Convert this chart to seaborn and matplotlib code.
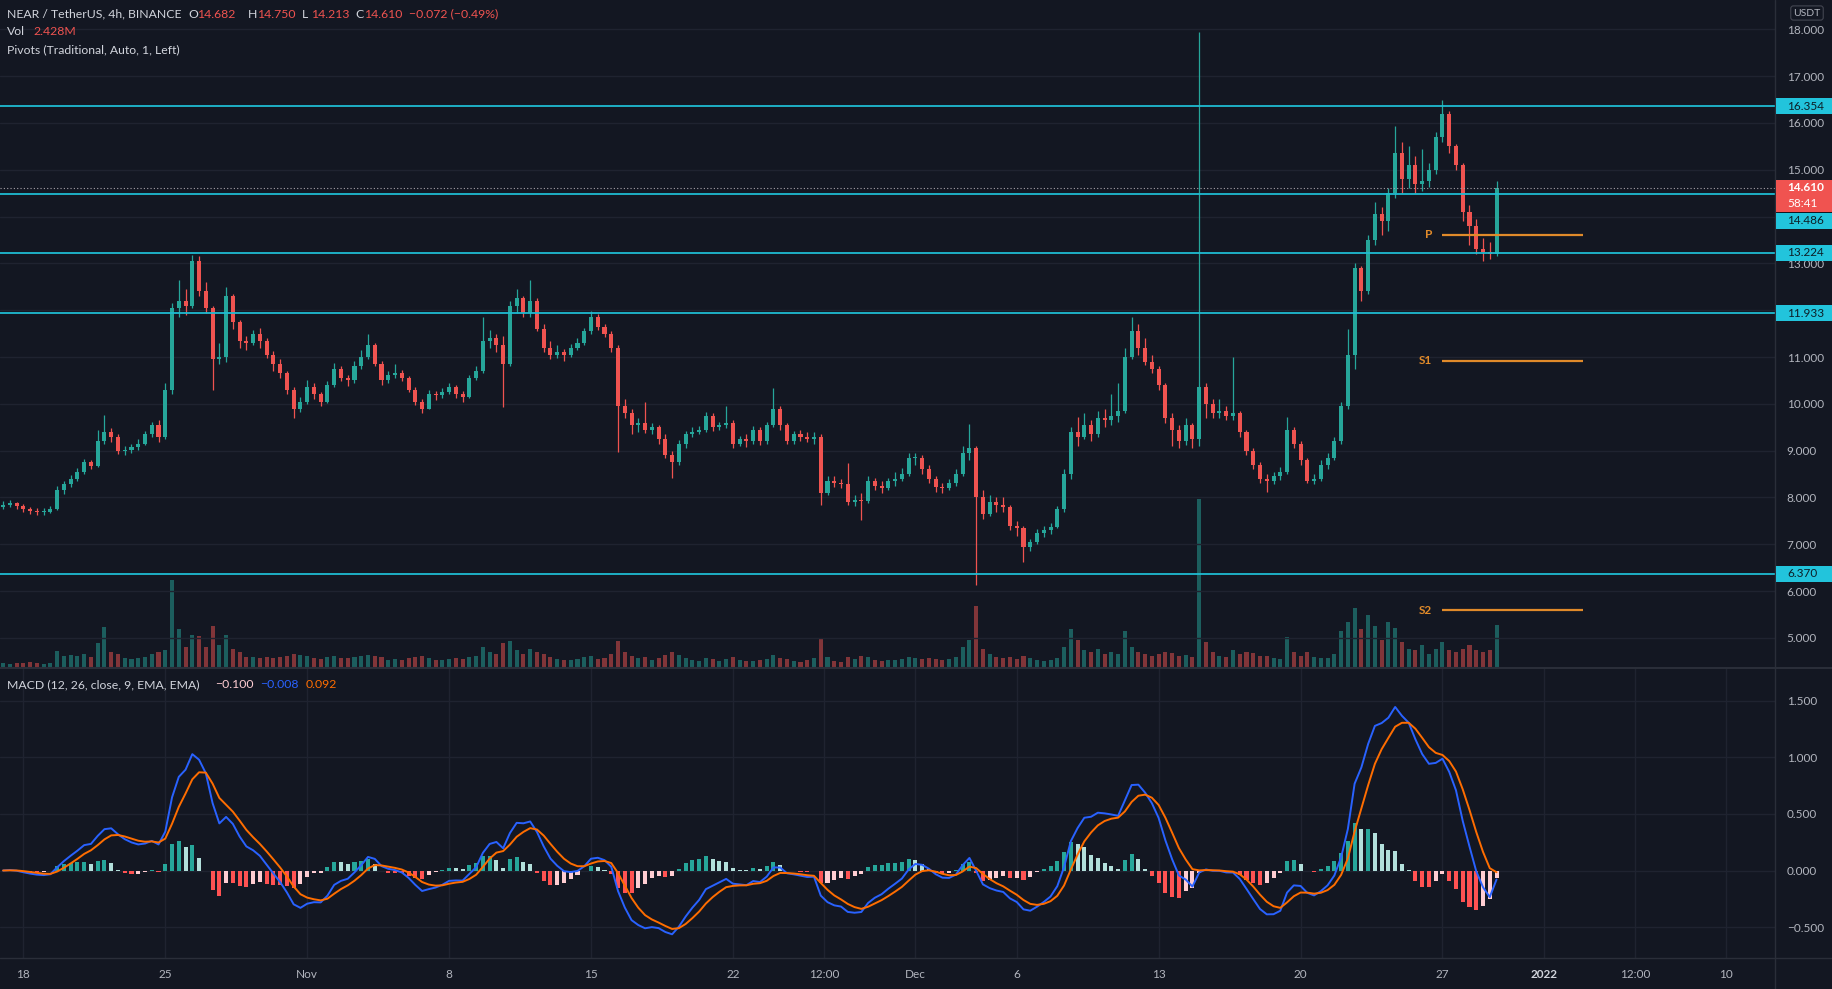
import numpy as np
import pandas as pd
import matplotlib
matplotlib.use("Agg")
import matplotlib.pyplot as plt
import matplotlib.transforms as mtransforms
from matplotlib.lines import Line2D
from matplotlib.patches import Rectangle
import seaborn as sns

# ---------------- data (8h bars) ----------------
bar_start = "2021-10-17 00:00"
bar_freq = "8h"
first_open = 7.80
close = [
    7.85, 7.88, 7.82,  7.75, 7.72, 7.70,  7.70, 7.76, 8.15,  8.28, 8.40, 8.55,
    8.75, 8.68, 9.20,  9.40, 9.30, 9.00,  9.02, 9.08, 9.15,  9.35, 9.55, 9.30,
    10.30, 12.05, 12.20,  12.10, 13.05, 12.40,  12.05, 10.95, 11.00,  12.30, 11.75, 11.35,
    11.30, 11.50, 11.35,  11.05, 10.85, 10.65,  10.30, 9.90, 10.05,
    10.35, 10.20, 10.05,  10.40, 10.75, 10.55,  10.50, 10.80, 11.00,  11.25, 10.85, 10.50,
    10.62, 10.65, 10.55,  10.30, 10.05, 9.90,  10.20, 10.18, 10.25,
    10.35, 10.20, 10.15,  10.55, 10.70, 11.35,  11.40, 11.25, 10.85,  12.10, 12.25, 11.95,
    12.20, 11.60, 11.20,  11.05, 11.10, 11.05,  11.20, 11.30, 11.55,
    11.85, 11.65, 11.50,  11.20, 9.95, 9.80,  9.55, 9.60, 9.45,  9.50, 9.25, 8.90,
    8.75, 9.15, 9.35,  9.40, 9.45, 9.75,  9.50, 9.55, 9.60,
    9.15, 9.25, 9.20,  9.45, 9.20, 9.55,  9.90, 9.55, 9.20,  9.35, 9.30, 9.25,
    9.30, 8.10, 8.35,  8.32, 8.28, 7.90,  7.95, 7.92, 8.35,
    8.25, 8.20, 8.35,  8.40, 8.50, 8.85,
    8.85, 8.60, 8.40,  8.22, 8.20, 8.30,  8.50, 8.95, 9.05,  8.00, 7.65, 7.90,  7.85, 7.80, 7.40,
    7.35, 6.95, 7.05,  7.25, 7.30, 7.38,  7.75, 8.50, 9.40,  9.30, 9.55, 9.35,
    9.70, 9.65, 9.75,  9.85, 11.00, 11.55,  11.20, 10.90, 10.75,
    10.40, 9.70, 9.45,  9.20, 9.55, 9.25,  10.35, 10.00, 9.80,  9.85, 9.75, 9.80,
    9.40, 9.00, 8.70,  8.40, 8.35, 8.45,  8.55, 9.45, 9.15,
    8.80, 8.35, 8.40,  8.70, 8.85, 9.20,  9.95, 11.05, 12.90,  12.40, 13.50, 14.05,
    13.90, 14.50, 15.35,  14.80, 15.10, 14.70,  14.75, 15.00, 15.70,
    16.20, 15.50, 15.10,  14.10, 13.80, 13.30,  13.25, 13.20, 14.61,
]
high = [
    7.92, 7.95, 7.90,  7.86, 7.80, 7.78,  7.78, 7.82, 8.25,  8.35, 8.48, 8.62,
    8.82, 8.80, 9.45,  9.76, 9.48, 9.35,  9.10, 9.15, 9.25,  9.42, 9.62, 9.65,
    10.45, 12.15, 12.64,  12.45, 13.18, 13.15,  12.60, 12.10, 11.30,  12.50, 12.35, 11.80,
    11.45, 11.58, 11.62,  11.40, 11.12, 10.95,  10.70, 10.35, 10.15,
    10.50, 10.45, 10.25,  10.48, 10.88, 10.80,  10.62, 10.92, 11.15,  11.50, 11.30, 10.92,
    10.70, 10.86, 10.72,  10.60, 10.35, 10.10,  10.30, 10.28, 10.33,
    10.45, 10.40, 10.28,  10.62, 10.80, 11.85,  11.58, 11.50, 11.45,  12.20, 12.45, 12.30,
    12.64, 12.25, 11.70,  11.35, 11.25, 11.18,  11.28, 11.40, 11.62,
    11.98, 11.92, 11.70,  11.55, 11.25, 10.10,  9.90, 9.70, 10.05,  9.60, 9.55, 9.35,
    9.00, 9.22, 9.42,  9.50, 9.52, 9.82,  9.80, 9.62, 9.95,
    9.65, 9.32, 9.35,  9.52, 9.50, 9.62,  10.33, 9.95, 9.60,  9.42, 9.45, 9.40,
    9.40, 9.35, 8.45,  8.45, 8.40, 8.73,  8.05, 8.10, 8.45,
    8.42, 8.35, 8.42,  8.55, 8.62, 8.94,
    8.95, 8.90, 8.70,  8.45, 8.32, 8.40,  8.60, 9.10, 9.58,  9.10, 8.15, 8.05,  8.02, 8.00, 7.85,
    7.50, 7.40, 7.12,  7.32, 7.40, 7.45,  7.82, 8.60, 9.50,  9.72, 9.80, 9.65,
    9.85, 9.90, 10.20,  10.45, 11.20, 11.86,  11.70, 11.40, 11.05,
    10.80, 10.45, 9.80,  9.55, 9.70, 9.60,  17.93, 10.45, 10.10,  10.10, 9.95, 11.00,
    9.85, 9.45, 9.05,  8.75, 8.50, 8.55,  8.65, 9.72, 9.50,
    9.20, 8.85, 8.50,  8.80, 8.95, 9.30,  10.05, 11.60, 13.00,  12.95, 13.60, 14.30,
    14.20, 14.60, 15.94,  15.60, 15.50, 15.30,  15.45, 15.15, 15.80,
    16.49, 16.25, 15.55,  15.15, 14.25, 13.95,  13.55, 13.45, 14.75,
]
low = [
    7.76, 7.80, 7.76,  7.70, 7.64, 7.62,  7.63, 7.66, 7.74,  8.08, 8.22, 8.35,
    8.50, 8.60, 8.66,  9.15, 9.18, 8.92,  8.90, 8.96, 9.02,  9.12, 9.30, 9.18,
    9.25, 10.20, 11.85,  11.90, 12.05, 12.30,  11.95, 10.30, 10.85,  10.90, 11.60, 11.20,
    11.15, 11.25, 11.20,  10.98, 10.70, 10.55,  10.20, 9.69, 9.82,
    10.00, 10.10, 9.95,  10.02, 10.35, 10.48,  10.38, 10.45, 10.75,  10.95, 10.80, 10.40,
    10.45, 10.55, 10.48,  10.25, 9.98, 9.80,  9.88, 10.08, 10.12,
    10.20, 10.12, 10.05,  10.12, 10.50, 10.65,  11.20, 11.10, 9.94,  10.80, 11.95, 11.85,
    11.85, 11.55, 11.10,  10.95, 10.98, 10.92,  11.00, 11.15, 11.25,
    11.50, 11.58, 11.42,  11.10, 8.98, 9.70,  9.35, 9.40, 9.38,  9.35, 9.15, 8.85,
    8.41, 8.70, 9.05,  9.30, 9.36, 9.40,  9.42, 9.45, 9.48,
    9.05, 9.10, 9.08,  9.15, 9.12, 9.15,  9.50, 9.45, 9.15,  9.15, 9.20, 9.18,
    9.15, 7.84, 8.05,  8.22, 8.20, 7.85,  7.82, 7.52, 7.88,
    8.15, 8.10, 8.15,  8.25, 8.35, 8.45,
    8.70, 8.50, 8.30,  8.12, 8.10, 8.15,  8.25, 8.45, 8.80,  6.13, 7.55, 7.60,  7.70, 7.68, 7.30,
    7.18, 6.63, 6.85,  7.00, 7.15, 7.22,  7.35, 7.70, 8.40,  9.10, 9.25, 9.20,
    9.30, 9.50, 9.55,  9.62, 9.80, 10.95,  11.05, 10.82, 10.65,
    10.30, 9.60, 9.10,  9.05, 9.12, 9.05,  9.10, 9.70, 9.70,  9.70, 9.65, 9.65,
    9.30, 8.90, 8.60,  8.30, 8.11, 8.28,  8.38, 8.50, 9.05,
    8.70, 8.31, 8.28,  8.35, 8.60, 8.80,  9.15, 9.90, 10.75,  12.20, 12.35, 13.40,
    13.60, 13.70, 14.40,  14.50, 14.60, 14.50,  14.55, 14.62, 14.90,
    15.60, 15.35, 15.00,  13.90, 13.40, 13.20,  13.04, 13.10, 13.15,
]
volume_m = [
    0.30, 0.25, 0.28,  0.30, 0.35, 0.30,  0.25, 0.30, 0.95,  0.70, 0.75, 0.70,
    0.80, 0.60, 1.40,  2.36, 0.90, 0.80,  0.55, 0.50, 0.55,  0.65, 0.80, 0.90,
    1.00, 5.00, 2.20,  1.20, 1.90, 1.80,  1.20, 2.40, 1.30,  1.90, 1.10, 0.90,
    0.60, 0.65, 0.55,  0.60, 0.55, 0.65,  0.70, 0.80, 0.75,
    0.70, 0.55, 0.50,  0.60, 0.70, 0.55,  0.55, 0.65, 0.70,  0.75, 0.70, 0.65,
    0.45, 0.50, 0.45,  0.55, 0.60, 0.70,  0.55, 0.45, 0.45,
    0.50, 0.55, 0.50,  0.60, 0.70, 1.20,  0.90, 0.80, 1.40,  1.56, 1.00, 0.80,
    1.10, 0.90, 0.80,  0.60, 0.50, 0.45,  0.45, 0.50, 0.60,
    0.70, 0.50, 0.55,  0.80, 1.56, 0.90,  0.70, 0.55, 0.60,  0.45, 0.55, 0.75,
    0.90, 0.75, 0.55,  0.45, 0.40, 0.55,  0.50, 0.40, 0.50,
    0.60, 0.45, 0.40,  0.40, 0.45, 0.50,  0.74, 0.55, 0.50,  0.40, 0.35, 0.45,
    0.55, 1.64, 0.60,  0.40, 0.35, 0.60,  0.50, 0.70, 0.60,
    0.45, 0.40, 0.45,  0.45, 0.50, 0.60,
    0.55, 0.50, 0.55,  0.50, 0.45, 0.50,  0.60, 1.20, 1.60,  3.50, 1.10, 0.80,  0.60, 0.55, 0.60,
    0.50, 0.70, 0.55,  0.45, 0.40, 0.45,  0.55, 1.20, 2.20,  1.60, 1.00, 0.90,
    1.10, 0.80, 0.90,  0.80, 2.10, 1.20,  0.90, 0.80, 0.70,
    0.80, 0.90, 0.85,  0.70, 0.75, 0.60,  9.60, 1.50, 0.90,  0.70, 0.60, 1.00,
    0.80, 0.90, 0.85,  0.70, 0.70, 0.55,  0.50, 1.76, 0.90,
    0.70, 0.90, 0.60,  0.55, 0.55, 0.80,  2.10, 2.60, 3.40,  2.20, 3.00, 2.40,
    1.60, 2.60, 2.30,  1.50, 1.10, 1.00,  1.30, 0.80, 1.10,
    1.50, 1.00, 0.90,  1.10, 1.30, 1.00,  0.90, 1.00, 2.43,
]

level_prices = [16.354, 14.486, 13.224, 11.933, 6.370]
level_labels = ["16.354", "14.486", "13.224", "11.933", "6.370"]
last_price = 14.610
last_price_label = "14.610"
countdown_label = "58:41"
pivot_names = ["P", "S1", "S2"]
pivot_prices = [13.61, 10.92, 5.59]
pivot_from = "2021-12-27 00:00"
pivot_to = "2022-01-02 22:30"

price_ticks = [5, 6, 7, 8, 9, 10, 11, 12, 13, 14, 15, 16, 17, 18]
macd_ticks = [-0.5, 0.0, 0.5, 1.0, 1.5]
time_ticks = ["2021-10-18", "2021-10-25", "2021-11-01", "2021-11-08", "2021-11-15",
              "2021-11-22", "2021-11-26 12:00", "2021-12-01", "2021-12-06", "2021-12-13",
              "2021-12-20", "2021-12-27", "2022-01-01", "2022-01-05 12:00", "2022-01-10"]
time_labels = ["18", "25", "Nov", "8", "15", "22", "12:00", "Dec", "6", "13",
               "20", "27", "2022", "12:00", "10"]
view_from, view_to = "2021-10-16 20:20", "2022-01-12 09:40"

header_symbol = "NEAR / TetherUS, 4h, BINANCE"
header_ohlc = [("O", "14.682"), ("H", "14.750"), ("L", "14.213"), ("C", "14.610")]
header_change = "\u22120.072 (\u22120.49%)"
vol_label, vol_value = "Vol", "2.428M"
pivots_title = "Pivots (Traditional, Auto, 1, Left)"
macd_title = "MACD (12, 26, close, 9, EMA, EMA)"
macd_values = ["\u22120.100", "\u22120.008", "0.092"]

# ---------------- derived ----------------
n = min(len(close), len(high), len(low), len(volume_m))
c = np.array(close[:n]); h = np.array(high[:n]); lo = np.array(low[:n]); v = np.array(volume_m[:n])
o = np.concatenate([[first_open], c[:-1]])
h = np.maximum(h, np.maximum(o, c)); lo = np.minimum(lo, np.minimum(o, c))
ref = pd.Timestamp("2021-10-18")
def days(ts):
    return (pd.Timestamp(ts) - ref) / pd.Timedelta("1D")
x = ((pd.date_range(bar_start, periods=n, freq=bar_freq) - ref) / pd.Timedelta("1D")).values.astype(float)

# MACD(12,26,9) on 4h closes, expressed for 8h bars
s = pd.Series(c)
a12 = 1 - (1 - 2 / 13) ** 2
a26 = 1 - (1 - 2 / 27) ** 2
a9 = 1 - (1 - 2 / 10) ** 2
macd = (s.ewm(alpha=a12, adjust=False).mean() - s.ewm(alpha=a26, adjust=False).mean()).values
signal = pd.Series(macd).ewm(alpha=a9, adjust=False).mean().values
hist = macd - signal

# ---------------- style ----------------
BG = "#131722"
GRID = "#1f2330"
SEP = "#2a2e39"
TXT = "#b2b5be"
HDR = "#d1d4dc"
UP = "#26a69a"
DN = "#ef5350"
CYAN = "#1fbcd2"
BOX = "#22c4dc"
ORANGE = "#e08a2a"
BLUE = "#2962ff"
SIG = "#ff6d00"
HFS = 8.8

sns.set_theme(style="dark")
plt.rcParams["font.family"] = ["Lato", "DejaVu Sans"]

W, H = 1832, 989
fig = plt.figure(figsize=(W / 100, H / 100), dpi=100)
fig.patch.set_facecolor(BG)

PR = 1775
ax = fig.add_axes([0, 1 - 668 / H, PR / W, 668 / H])
axm = fig.add_axes([0, 1 - 958 / H, PR / W, 290 / H])
axv = ax.twinx()
ax.set_zorder(axv.get_zorder() + 1)
ax.patch.set_visible(False)
axv.set_facecolor(BG)
axm.set_facecolor(BG)
for a in (ax, axv, axm):
    for sp in a.spines.values():
        sp.set_visible(False)

xmin, xmax = days(view_from), days(view_to)
pmin, pmax = 4.359, 18.624
mmin, mmax = -0.772, 1.787
tick_days = [days(t) for t in time_ticks]

for a in (ax, axv, axm):
    a.set_xlim(xmin, xmax)
ax.set_ylim(pmin, pmax)
axv.set_ylim(0, 38)
axm.set_ylim(mmin, mmax)

# grids / ticks
ax.set_xticks(tick_days)
ax.set_yticks(price_ticks)
ax.grid(True, color=GRID, lw=1)
ax.yaxis.tick_right()
ax.set_yticklabels(["" if t in (12, 14) else f"{t:.3f}" for t in price_ticks])
ax.tick_params(axis="y", length=0, pad=8.5, labelsize=8.5, labelcolor=TXT)
ax.tick_params(axis="x", length=0, labelbottom=False)
axv.set_yticks([]); axv.set_xticks([]); axv.grid(False)

axm.set_xticks(tick_days)
axm.set_yticks(macd_ticks)
axm.grid(True, color=GRID, lw=1)
axm.yaxis.tick_right()
axm.set_yticklabels([f"{t:.3f}".replace("-", "\u2212") for t in macd_ticks])
axm.tick_params(axis="y", length=0, pad=8.5, labelsize=8.5, labelcolor=TXT)
axm.tick_params(axis="x", length=0, labelbottom=False)

# volume
vcols = [UP if cc >= oo else DN for oo, cc in zip(o, c)]
axv.bar(x, v, width=0.2, color=vcols, alpha=0.5, linewidth=0)

# candles
ax.vlines(x, lo, h, colors=vcols, linewidth=0.9, zorder=2.5)
ax.bar(x, np.maximum(np.abs(c - o), 0.015), bottom=np.minimum(o, c), width=0.2,
       color=vcols, linewidth=0, zorder=3)

# horizontal levels
for p in level_prices:
    ax.axhline(p, color=CYAN, lw=1.3, zorder=4)
ax.axhline(last_price, color="#a9a3aa", lw=0.8, ls=(0, (1, 2)), zorder=4)

# pivots
pf, pt = days(pivot_from), days(pivot_to)
ax.hlines(pivot_prices, pf, pt, color=ORANGE, lw=1.6, zorder=4)
for nm, p in zip(pivot_names, pivot_prices):
    ax.text(pf - 0.5, p, nm, ha="right", va="center", color=ORANGE, fontsize=8.5, fontweight="bold")

# MACD pane
hcols = []
for i, hv in enumerate(hist):
    prev = hist[i - 1] if i > 0 else hv
    if hv >= 0:
        hcols.append("#26a69a" if hv >= prev else "#b2dfdb")
    else:
        hcols.append("#ff5252" if hv < prev else "#ffcdd2")
axm.bar(x, hist, width=0.2, color=hcols, linewidth=0, zorder=2)
sns.lineplot(x=x, y=macd, ax=axm, color=BLUE, linewidth=1.4, zorder=3)
sns.lineplot(x=x, y=signal, ax=axm, color=SIG, linewidth=1.4, zorder=3)
axm.set_xlabel(""); axm.set_ylabel("")

# separators
fig.add_artist(Line2D([PR / W, PR / W], [0, 1], color=SEP, lw=1))
fig.add_artist(Line2D([0, 1], [1 - 668 / H] * 2, color=SEP, lw=1.5))
fig.add_artist(Line2D([0, 1], [1 - 958 / H] * 2, color=SEP, lw=1))

# time labels
tb = mtransforms.blended_transform_factory(axm.transData, fig.transFigure)
for d, lab in zip(tick_days, time_labels):
    bold = lab == "2022"
    axm.text(d, 1 - 975 / H, lab, transform=tb, ha="center", va="center",
             fontsize=8.5, color=HDR if bold else TXT, fontweight="bold" if bold else "normal",
             clip_on=False)

# price-axis label boxes
def ytop(p):
    return 668 * (pmax - p) / (pmax - pmin)

def axis_box(yc, hh, fc, lines, tc):
    fig.add_artist(Rectangle((PR / W + 0.0004, 1 - (yc + hh / 2) / H), (W - PR) / W, hh / H,
                             transform=fig.transFigure, fc=fc, ec="none", zorder=5))
    k = len(lines)
    for j, t in enumerate(lines):
        yy = yc - hh / 2 + (j + 0.5) * hh / k
        fig.text(1787 / W, 1 - yy / H, t, ha="left", va="center", fontsize=8.5,
                 color=tc, zorder=6, fontweight="bold" if k > 1 and j == 0 else "normal")

for p, lab in zip(level_prices, level_labels):
    yc = ytop(p)
    if lab == "14.486":
        yc = ytop(last_price) + 33
    axis_box(yc, 16, BOX, [lab], "#0d1f27")
axis_box(ytop(last_price) + 8, 32, "#f05350", [last_price_label, countdown_label], "#ffffff")

fig.text(1807 / W, 1 - 13 / H, "USDT", ha="center", va="center", fontsize=7.5, color=TXT,
         bbox=dict(boxstyle="round,pad=0.25", fc=BG, ec="#434651", lw=0.8))

# header texts
def ftext(xp, yp, t, col, **kw):
    fig.text(xp / W, 1 - yp / H, t, color=col, ha="left", va="center", fontsize=HFS, **kw)

ftext(7, 14, header_symbol, HDR)
for (k, val), xk in zip(header_ohlc, [188, 248, 302, 355]):
    ftext(xk, 14, k, HDR)
    ftext(xk + 9, 14, val, DN)
ftext(409, 14, header_change, DN)
ftext(7, 31.5, vol_label, HDR)
ftext(33, 31.5, vol_value, DN)
ftext(7, 50, pivots_title, HDR)
ftext(7, 685, macd_title, HDR)
for val, xk, col in zip(macd_values, [215, 260, 306], ["#ffcdd2", BLUE, SIG]):
    ftext(xk, 685, val, col)

fig.savefig("out.png", dpi=100, facecolor=BG)
